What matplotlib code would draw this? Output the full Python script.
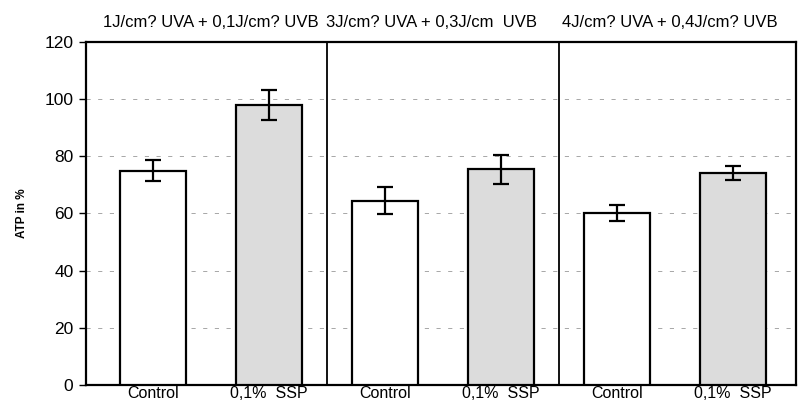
import matplotlib.pyplot as plt
import numpy as np

plt.rcParams['font.family'] = ['Liberation Sans', 'DejaVu Sans']

# data
categories = ["Control", "0,1%  SSP", "Control", "0,1%  SSP", "Control", "0,1%  SSP"]
atp = [75.0, 98.0, 64.5, 75.5, 60.3, 74.2]
err = [3.8, 5.2, 4.7, 5.1, 2.8, 2.4]
group_titles = ["1J/cm? UVA + 0,1J/cm? UVB",
                "3J/cm? UVA + 0,3J/cm  UVB",
                "4J/cm? UVA + 0,4J/cm? UVB"]
yticks = [0, 20, 40, 60, 80, 100, 120]

colors = ["white", "#dcdcdc"] * 3

fig = plt.figure(figsize=(8.03, 4.07), dpi=100)
ax = fig.add_axes([0.107, 0.054, 0.884, 0.843])

x = np.arange(len(atp))
ax.bar(x, atp, width=0.57, color=colors, edgecolor="black", linewidth=1.6, zorder=3)
ax.errorbar(x, atp, yerr=err, fmt="none", ecolor="black", elinewidth=1.6,
            capsize=6, capthick=1.6, zorder=4)

# group dividers
for xd in [1.5, 3.5]:
    ax.axvline(xd, color="black", linewidth=1.3, zorder=2)

ax.set_xlim(-0.58, 5.54)
ax.set_ylim(0, 120)
ax.set_yticks(yticks)
ax.tick_params(axis="y", labelsize=12.5, direction="out", length=5, width=1, pad=4)
ax.tick_params(axis="x", length=0, labelsize=11.5, pad=1)
ax.set_xticks(x)
ax.set_xticklabels(categories)
ax.yaxis.grid(True, color="#999999", linestyle=(0, (5, 9)), linewidth=0.6, zorder=0)
for s in ax.spines.values():
    s.set_linewidth(1.6)
ax.set_ylabel("ATP in %", fontsize=8.5, fontweight="bold", labelpad=12)

title_x = [0.5, 2.4, 4.45]
for tx, t in zip(title_x, group_titles):
    ax.text(tx, 1.035, t, transform=ax.get_xaxis_transform(),
            ha="center", va="bottom", fontsize=12)

fig.savefig("out.png", dpi=100)
